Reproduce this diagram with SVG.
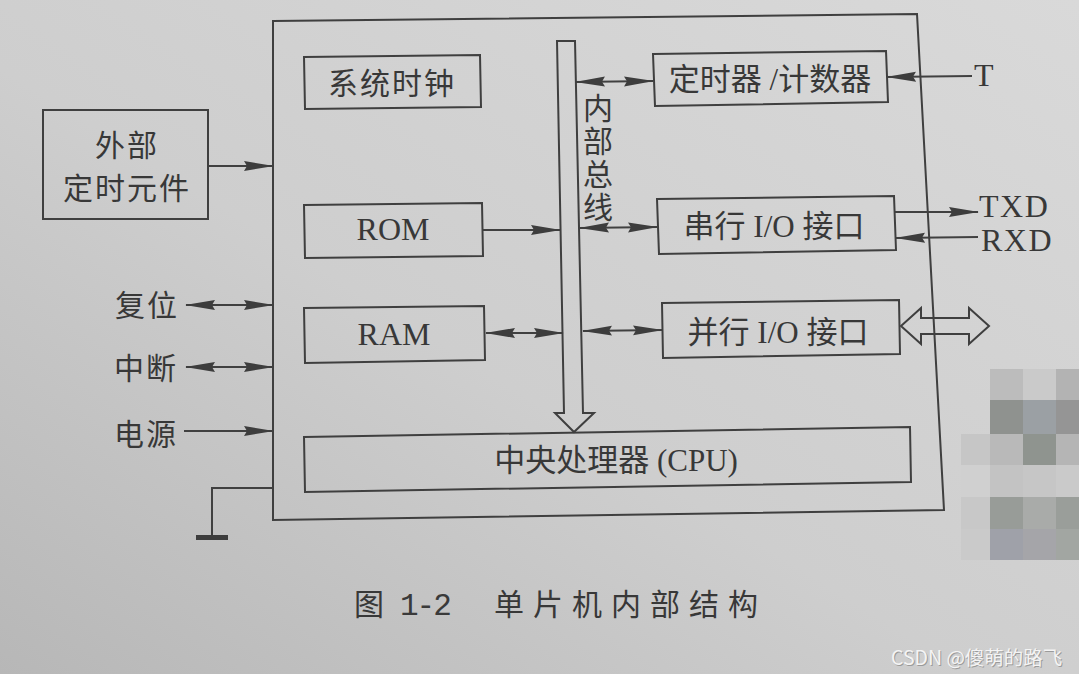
<svg xmlns="http://www.w3.org/2000/svg" width="1079" height="674" viewBox="0 0 1079 674">
<defs>
<linearGradient id="paper" x1="0" y1="1" x2="1" y2="0">
<stop offset="0" stop-color="#b7b7b7"/>
<stop offset="0.45" stop-color="#cecece"/>
<stop offset="1" stop-color="#d9d9d9"/>
</linearGradient>
<marker id="ah" markerUnits="userSpaceOnUse" markerWidth="30" markerHeight="12" viewBox="0 0 30 12" refX="29" refY="6" orient="auto-start-reverse">
<path d="M0,1 L30,6 L0,11 L3,6 z" fill="#3d3d3d"/>
</marker>
<style>
.box{fill:none;stroke:#3f3f3f;stroke-width:2}
.ln{fill:none;stroke:#404040;stroke-width:2}
.a1{marker-end:url(#ah)}
.a2{marker-start:url(#ah);marker-end:url(#ah)}
.zh{font-family:"Noto Sans CJK SC","Liberation Serif",sans-serif;font-size:30px;fill:#383838}
.mx{font-family:"Liberation Serif","Noto Sans CJK SC",serif;font-size:31px;fill:#383838}
.lat{font-family:"Liberation Serif",serif;font-size:32px;fill:#383838}
</style>
</defs>
<rect x="0" y="0" width="1079" height="674" fill="url(#paper)"/>

<g id="outer">
<polygon class="box" points="273,21 917,14 944,510 273,520"/>
</g>

<g id="ext-timer">
<rect class="box" x="43" y="110" width="165" height="109"/>
<text class="zh" x="127" y="156" text-anchor="middle" letter-spacing="2">外部</text>
<text class="zh" x="127" y="199" text-anchor="middle" letter-spacing="2">定时元件</text>
</g>

<g id="sys-clock">
<polygon class="box" points="304,57 480,55 481,107 305,109"/>
<text class="zh" x="392" y="94" text-anchor="middle" letter-spacing="2">系统时钟</text>
</g>

<g id="rom">
<polygon class="box" points="304,205 482,203 483,256 305,258"/>
<text class="lat" x="393" y="240" text-anchor="middle" font-size="33">ROM</text>
</g>

<g id="ram">
<polygon class="box" points="304,308 484,306 485,360 305,363"/>
<text class="lat" x="394" y="345" text-anchor="middle" font-size="33">RAM</text>
</g>

<g id="cpu">
<polygon class="box" points="304,437 910,427 911,482 305,492"/>
<text class="mx" x="616" y="471" text-anchor="middle">中央处理器 (CPU)</text>
</g>

<g id="timer">
<polygon class="box" points="653,54 886,51 888,102 655,106"/>
<text class="mx" x="770" y="90" text-anchor="middle">定时器 /计数器</text>
</g>

<g id="serial">
<polygon class="box" points="657,199 894,196 896,250 659,254"/>
<text class="mx" x="774" y="237" text-anchor="middle">串行 I/O 接口</text>
</g>

<g id="parallel">
<polygon class="box" points="662,303 899,300 900,354 663,358"/>
<text class="mx" x="778" y="343" text-anchor="middle">并行 I/O 接口</text>
</g>

<g id="bus">
<polygon class="box" points="557,41 575,41 583,413 594,413 574,432 555,413 564,413"/>
<text class="zh" x="598" y="93" font-size="29" letter-spacing="3" style="writing-mode:vertical-rl">内部总线</text>
</g>

<g id="labels">
<text class="zh" x="147" y="316" text-anchor="middle" font-size="31" letter-spacing="2">复位</text>
<text class="zh" x="146" y="379" text-anchor="middle" font-size="31" letter-spacing="2">中断</text>
<text class="zh" x="146" y="445" text-anchor="middle" font-size="31" letter-spacing="2">电源</text>
<text class="lat" x="974" y="86">T</text>
<text class="lat" x="979" y="217" font-size="29" letter-spacing="1.5">TXD</text>
<text class="lat" x="981" y="251" font-size="29" letter-spacing="1.5">RXD</text>
</g>

<g id="ground">
<polyline class="ln" points="273,488 212,488 212,537"/>
<rect x="196" y="535" width="32" height="5" fill="#3d3d3d"/>
</g>

<g id="connectors">
<line class="ln a1" x1="208" y1="166" x2="273" y2="166"/>
<line class="ln a2" x1="186" y1="305" x2="273" y2="305"/>
<line class="ln a2" x1="186" y1="367" x2="273" y2="367"/>
<line class="ln a1" x1="184" y1="431" x2="273" y2="431"/>
<line class="ln a1" x1="483" y1="230" x2="560" y2="230"/>
<line class="ln a2" x1="486" y1="333" x2="563" y2="333"/>
<line class="ln a2" x1="576" y1="82" x2="653" y2="81"/>
<line class="ln a2" x1="580" y1="228" x2="657" y2="227"/>
<line class="ln a2" x1="583" y1="331" x2="662" y2="330"/>
<line class="ln a1" x1="972" y1="76" x2="887" y2="77"/>
<line class="ln a1" x1="895" y1="212" x2="978" y2="212"/>
<line class="ln a1" x1="978" y1="237" x2="896" y2="238"/>
<polygon points="901,326 921,308 921,318 969,318 969,308 989,326 969,344 969,334 921,334 921,344" fill="none" stroke="#3f3f3f" stroke-width="2"/>
</g>

<g id="caption">
<text class="zh" x="354" y="615" font-size="31" fill="#3a3a3a">图</text>
<text x="400" y="615" font-family="Liberation Mono, monospace" font-size="31" fill="#3a3a3a" letter-spacing="-2">1-2</text>
<text class="zh" x="494" y="615" font-size="31" letter-spacing="9">单片机内部结构</text>
</g>

<g id="mosaic">
<rect x="990" y="369" width="33" height="31" fill="#bcbcbc"/>
<rect x="1023" y="369" width="33" height="31" fill="#cacaca"/>
<rect x="1056" y="369" width="23" height="31" fill="#b3b3b3"/>
<rect x="990" y="400" width="33" height="34" fill="#8f928f"/>
<rect x="1023" y="400" width="33" height="34" fill="#9ba0a4"/>
<rect x="1056" y="400" width="23" height="34" fill="#959595"/>
<rect x="961" y="434" width="29" height="31" fill="#c6c6c6"/>
<rect x="990" y="434" width="33" height="31" fill="#b9b9b9"/>
<rect x="1023" y="434" width="33" height="31" fill="#8f948f"/>
<rect x="1056" y="434" width="23" height="31" fill="#b5b5b5"/>
<rect x="961" y="465" width="29" height="32" fill="#d0d0d0"/>
<rect x="990" y="465" width="33" height="32" fill="#c3c3c3"/>
<rect x="1023" y="465" width="33" height="32" fill="#c6c6c6"/>
<rect x="1056" y="465" width="23" height="32" fill="#cacaca"/>
<rect x="961" y="497" width="29" height="32" fill="#c8c8c8"/>
<rect x="990" y="497" width="33" height="32" fill="#989c98"/>
<rect x="1023" y="497" width="33" height="32" fill="#a9aba9"/>
<rect x="1056" y="497" width="23" height="32" fill="#9a9e9a"/>
<rect x="961" y="529" width="29" height="31" fill="#cacaca"/>
<rect x="990" y="529" width="33" height="31" fill="#9fa1a9"/>
<rect x="1023" y="529" width="33" height="31" fill="#a5a5a9"/>
<rect x="1056" y="529" width="23" height="31" fill="#a2a6a2"/>
</g>

<g id="watermark">
<text x="891" y="665" font-family="Noto Sans CJK SC, sans-serif" font-size="19.5" fill="#7a7a7a" opacity="0.6" transform="translate(1,1)">CSDN @傻萌的路飞</text>
<text x="891" y="665" font-family="Noto Sans CJK SC, sans-serif" font-size="19.5" fill="#f4f4f4">CSDN @傻萌的路飞</text>
</g>
</svg>
